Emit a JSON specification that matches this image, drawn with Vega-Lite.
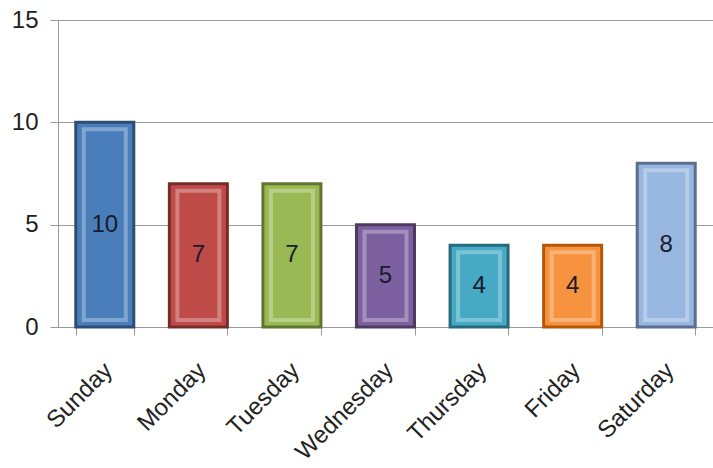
{
  "$schema": "https://vega.github.io/schema/vega-lite/v6.json",
  "width": 655,
  "height": 307,
  "autosize": "none",
  "padding": {"left": 58, "top": 20, "right": 0, "bottom": 141},
  "background": "white",
  "data": {
    "values": [
      {"day": "Sunday", "count": 10},
      {"day": "Monday", "count": 7},
      {"day": "Tuesday", "count": 7},
      {"day": "Wednesday", "count": 5},
      {"day": "Thursday", "count": 4},
      {"day": "Friday", "count": 4},
      {"day": "Saturday", "count": 8}
    ]
  },
  "encoding": {
    "x": {
      "field": "day",
      "type": "nominal",
      "sort": null,
      "title": null,
      "scale": {"paddingInner": 0.38, "paddingOuter": 0.19},
      "axis": {
        "labelAngle": -45,
        "labelFontSize": 24,
        "labelFont": "Liberation Sans",
        "labelColor": "#222222",
        "labelPadding": 23,
        "labelOffset": -5,
        "tickBand": "extent",
        "tickSize": 8,
        "tickColor": "#999999",
        "domainColor": "#999999"
      }
    }
  },
  "layer": [
    {
      "mark": {"type": "bar", "strokeWidth": 3},
      "encoding": {
        "y": {
          "field": "count",
          "type": "quantitative",
          "title": null,
          "scale": {"domain": [0, 15]},
          "axis": {
            "values": [0, 5, 10, 15],
            "labelFontSize": 24,
            "labelFont": "Liberation Sans",
            "labelColor": "#222222",
            "labelPadding": 12,
            "tickSize": 8,
            "tickColor": "#999999",
            "domainColor": "#999999",
            "gridColor": "#999999"
          }
        },
        "color": {
          "field": "day",
          "type": "nominal",
          "sort": null,
          "legend": null,
          "scale": {
            "domain": ["Sunday", "Monday", "Tuesday", "Wednesday", "Thursday", "Friday", "Saturday"],
            "range": ["#4a7ebb", "#be4b48", "#98b954", "#7d60a0", "#46aac5", "#f69240", "#97b6e0"]
          }
        },
        "stroke": {
          "field": "day",
          "type": "nominal",
          "sort": null,
          "legend": null,
          "scale": {
            "domain": ["Sunday", "Monday", "Tuesday", "Wednesday", "Thursday", "Friday", "Saturday"],
            "range": ["#2c4d75", "#772c2a", "#5f7530", "#4d3b62", "#276a7c", "#b65708", "#5a6f8e"]
          }
        }
      }
    },
    {
      "mark": {"type": "bar", "size": 42, "yOffset": 7, "y2Offset": -7, "fillOpacity": 0, "stroke": "white", "strokeWidth": 4, "strokeOpacity": 0.3},
      "encoding": {
        "y": {"field": "count", "type": "quantitative", "scale": {"domain": [0, 15]}, "axis": null},
        "y2": {"datum": 0}
      }
    },
    {
      "mark": {"type": "text", "fontSize": 24, "font": "Liberation Sans", "color": "#1a1a2a"},
      "encoding": {
        "y": {"field": "count", "type": "quantitative", "scale": {"domain": [0, 30]}, "axis": null},
        "text": {"field": "count", "type": "quantitative"}
      }
    }
  ],
  "resolve": {"scale": {"y": "independent"}}
}
